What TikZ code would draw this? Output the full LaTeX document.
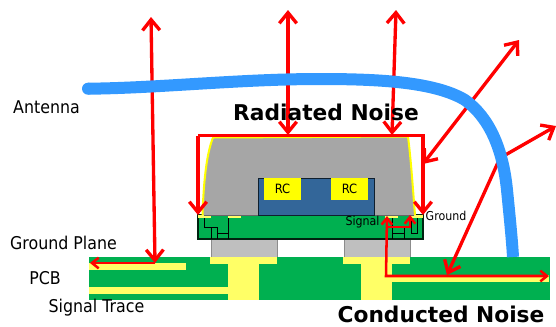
\documentclass[tikz,border=0pt]{standalone}
\usepackage{fontspec}
\setmainfont{DejaVu Sans}[FakeStretch=0.9]
\newfontfamily\boldf{DejaVu Sans Bold}
\usetikzlibrary{arrows.meta}
\definecolor{pcbg}{HTML}{00B050}
\definecolor{gold}{HTML}{FFFF66}
\definecolor{ryel}{HTML}{FFFF00}
\definecolor{grayA}{HTML}{A6A6A6}
\definecolor{grayB}{HTML}{BFBFBF}
\definecolor{chip}{HTML}{336699}
\definecolor{ant}{HTML}{3399FF}
\tikzset{
 px/.style={x=0.75pt,y=-0.75pt},
 noise/.style={draw=red,line width=2.5pt,line join=miter},
 thinnoise/.style={draw=red,line width=1.9pt,line join=miter},
 tip/.style={-{Straight Barb[length=8pt,width=13pt,line width=2.5pt]}},
 tips/.style={{Straight Barb[length=8pt,width=13pt,line width=2.5pt]}-{Straight Barb[length=8pt,width=13pt,line width=2.5pt]}},
 smalltip/.style={-{Straight Barb[length=5pt,width=8pt,line width=1.9pt]}},
 smalltips/.style={{Straight Barb[length=5pt,width=8pt,line width=1.9pt]}-{Straight Barb[length=5pt,width=8pt,line width=1.9pt]}},
 lab/.style={inner sep=0pt,anchor=center,font=\fontsize{13.2}{15}\selectfont},
 smalllab/.style={inner sep=0pt,anchor=center,font=\fontsize{9.2}{11}\selectfont},
 head/.style={inner sep=0pt,anchor=center,font=\fontsize{16.3}{19}\boldf},
 trace/.style={draw=black,line width=0.65pt},
 pillar/.style={fill=grayB,draw=gray!90,line width=0.7pt},
 rcbox/.style={fill=ryel,minimum width=27.75pt,minimum height=16.5pt,inner sep=0pt,font=\fontsize{9.6}{11}\selectfont},
}
\begin{document}
\begin{tikzpicture}[px]
\useasboundingbox (0,0) rectangle (556,326);
% PCB
\fill[pcbg] (89,257) rectangle (550,300);
\fill[gold] (89,263) rectangle (186,270);
\fill[gold] (89,287) rectangle (228,294);
\fill[gold] (392,275) rectangle (549,282);
\fill[gold] (210,257) rectangle (277,264);
\fill[gold] (228,264) rectangle (259,300);
\fill[gold] (343,257) rectangle (410,264);
\fill[gold] (361,264) rectangle (392,300);
% pillars
\path[pillar] (211,257) -- (211,239) -- (277,239) -- (277,257);
\path[pillar] (344,257) -- (344,239) -- (410,239) -- (410,257);
% substrate
\draw[fill=pcbg,draw=black!80!pcbg,line width=0.8pt] (198,215) rectangle (423,239);
\fill[gold] (198,215) rectangle (211,218);
\fill[gold] (228,215) rectangle (241,218);
\fill[gold] (385,215) rectangle (398,218);
\fill[gold] (410,215) rectangle (423,218);
% traces
\draw[trace] (204,218) -- (204,227) -- (217,227);
\draw[trace] (211,227) -- (211,239);
\draw[trace] (217,227) -- (217,239);
\draw[trace] (217,233) -- (228,233);
\draw[trace] (228,218) -- (228,239);
\draw[trace] (392,218) -- (392,239);
\draw[trace] (392,233) -- (404,233);
\draw[trace] (404,228) -- (404,239);
\draw[trace] (411,218) -- (411,233) -- (417,233) -- (417,218);
% package
\draw[fill=grayA,draw=ryel,line width=1.5pt] (202.5,215) .. controls (203.5,185) and (206,155) .. (213,137.5) -- (408,136.5) .. controls (411,160) and (413,190) .. (415,215);
\fill[grayA] (204,213) rectangle (413,215);
\draw[draw=black!60,line width=0.5pt] (204,215) -- (414,215);
\draw[fill=chip,draw=black!70!chip,line width=0.7pt] (258,178) rectangle (374,215);
\node[rcbox] (rc1) at (282.5,189) {RC};
\node[rcbox] (rc2) at (349.5,189) {RC};
% coordinates
\coordinate (a1) at (151,17);
\coordinate (a2) at (155,263);
\coordinate (a3) at (90,263);
\coordinate (b1) at (288,10);
\coordinate (b2) at (288,135);
\coordinate (c1) at (396,10);
\coordinate (c2) at (392,135);
\coordinate (tl) at (198,135.5);
\coordinate (tr) at (423,135.5);
\coordinate (bl) at (198,215);
\coordinate (br) at (423,215);
\coordinate (d1) at (519,40);
\coordinate (d2) at (423,164);
\coordinate (e0) at (500,158);
\coordinate (e1) at (556,126);
\coordinate (e2) at (447,275);
\coordinate (f1) at (387,216);
\coordinate (f2) at (386,276);
\coordinate (f3) at (549,276);
\coordinate (g1) at (387,227);
\coordinate (g2) at (410,227);
\coordinate (g3) at (410,215);
% red
\draw[noise,tips] (a1) -- (a2);
\draw[thinnoise,smalltip] (a2) -- (a3);
\draw[noise,tips] (b1) -- (b2);
\draw[noise,tips] (c1) -- (c2);
\draw[noise,tip] (bl |- tl) -- (bl);
\draw[noise,tip] (tl) -- (tr) -- (br);
\draw[noise,tips] (d1) -- (d2);
\draw[noise,tip] (e0) -- (e1);
\draw[noise,tip] (e0) -- (e2);
\draw[thinnoise,smalltips] (f1) -- (f2) -- (f3);
\draw[thinnoise,smalltip] (g1) -- (g2) -- (g3);
% antenna
\fill[ant] (88,88.7) circle (6);
\draw[ant,line width=9pt] (88,88.7) .. controls (160,88) and (240,79) .. (320,79) .. controls (380,79) and (435,82) .. (465,100) .. controls (490,118) and (503,150) .. (507,190) .. controls (510,220) and (512,240) .. (513,257);
% labels
\node[lab] (t1) at (46.5,107) {Antenna};
\node[lab] (t2) at (63.5,243) {Ground Plane};
\node[lab] (t3) at (45,278) {PCB};
\node[lab] (t4) at (96.5,308) {Signal Trace};
\node[smalllab] (t5) at (362.5,222) {Signal};
\node[smalllab] (t6) at (446,216) {Ground};
\node[head] (t7) at (326,112) {Radiated Noise};
\node[head] (t8) at (441,314) {Conducted Noise};
\end{tikzpicture}
\end{document}
